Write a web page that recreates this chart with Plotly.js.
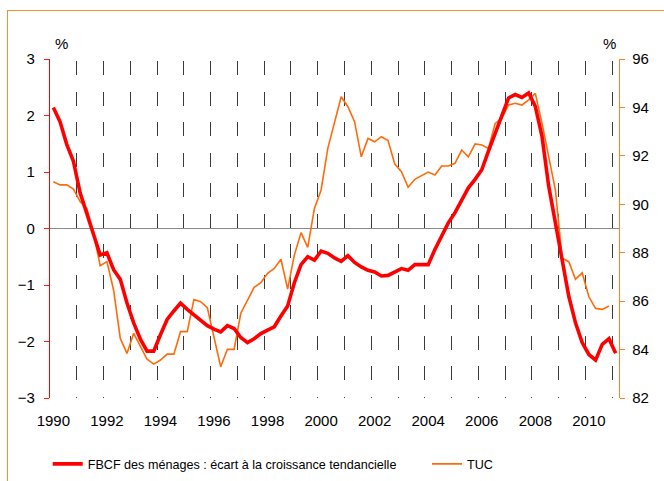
<!DOCTYPE html>
<html><head><meta charset="utf-8">
<script src="https://cdn.plot.ly/plotly-3.0.1.min.js"></script>
<style>
html,body{margin:0;padding:0;background:#fff;overflow:hidden;width:664px;height:481px;}
#chart{width:664px;height:481px;position:absolute;left:0;top:0;}
#frame{position:absolute;left:7px;top:10px;width:720px;height:540px;border:1px solid #ff8c2e;box-sizing:border-box;pointer-events:none;}
</style>
</head><body><div id="chart"></div><div id="frame"></div>
<script>
const firstYear = 1990;
// FBCF des ménages : écart à la croissance tendancielle (quarterly, 1990T1 - 2011T1), %
const fbcf = [2.14,1.89,1.49,1.19,0.63,0.26,-0.10,-0.47,-0.43,-0.73,
  -0.90,-1.32,-1.67,-1.96,-2.17,-2.17,-1.88,-1.61,-1.46,-1.32,
  -1.43,-1.53,-1.63,-1.72,-1.78,-1.83,-1.72,-1.77,-1.93,-2.02,
  -1.95,-1.86,-1.80,-1.74,-1.55,-1.37,-0.96,-0.64,-0.50,-0.56,
  -0.40,-0.44,-0.52,-0.58,-0.48,-0.60,-0.68,-0.74,-0.77,-0.84,
  -0.83,-0.77,-0.71,-0.74,-0.64,-0.64,-0.64,-0.37,-0.14,0.10,
  0.28,0.51,0.72,0.87,1.04,1.37,1.69,1.99,2.31,2.37,
  2.32,2.40,2.16,1.63,0.75,0.10,-0.55,-1.20,-1.67,-2.02,
  -2.23,-2.33,-2.05,-1.95,-2.21];
// TUC (quarterly, 1990T1 - 2010T4), %
const tuc = [90.93,90.80,90.80,90.63,90.11,89.83,88.80,87.46,87.63,86.46,
  84.46,83.84,84.67,84.12,83.60,83.40,83.57,83.81,83.81,84.74,
  84.74,86.07,85.98,85.73,84.53,83.29,84.01,84.01,85.50,86.05,
  86.57,86.76,87.15,87.35,87.73,86.50,87.90,88.83,88.22,89.83,
  90.59,92.31,93.34,94.44,94.03,93.41,91.96,92.72,92.58,92.79,
  92.63,91.66,91.35,90.70,91.03,91.17,91.33,91.21,91.58,91.58,
  91.69,92.24,91.96,92.49,92.45,92.31,93.34,93.55,94.10,94.17,
  94.10,94.31,94.58,93.34,91.96,90.59,87.77,87.63,86.90,87.17,
  86.18,85.70,85.66,85.80];
const labelYears = [1990,1992,1994,1996,1998,2000,2002,2004,2006,2008,2010];
const gridYears = [1991,1992,1993,1994,1995,1996,1997,1998,1999,2000,2001,2002,2003,2004,2005,2006,2007,2008,2009,2010,2011];
const leftTicks = [-3,-2,-1,0,1,2,3];
const rightTicks = [82,84,86,88,90,92,94,96];

const qx = i => firstYear + i / 4 + 0.125;   // centre of quarter i
const xF = fbcf.map((_, i) => qx(i));
const xT = tuc.map((_, i) => qx(i));

const traces = [
  {x: xF, y: fbcf, type: 'scatter', mode: 'lines', yaxis: 'y2', legend: 'legend',
   name: 'FBCF des ménages : écart à la croissance tendancielle',
   line: {color: '#ff0000', width: 3.6}, hoverinfo: 'skip'},
  {x: xT, y: tuc, type: 'scatter', mode: 'lines', yaxis: 'y', legend: 'legend2',
   name: 'TUC', line: {color: '#ff6a0a', width: 1.6}, hoverinfo: 'skip'}
];

const tickFont = {family: 'Liberation Sans, Arial, sans-serif', size: 15, color: '#000'};
const legFont = {family: 'Liberation Sans, Arial, sans-serif', size: 12.6, color: '#000'};

const layout = {
  width: 664, height: 481,
  margin: {l: 50, r: 45, t: 59, b: 83},
  paper_bgcolor: '#fff', plot_bgcolor: '#fff',
  showlegend: true,
  xaxis: {
    range: [1990, 2011.25], showgrid: false, zeroline: false, showline: false,
    tickmode: 'array', tickvals: labelYears.map(y => y + 0.125), ticktext: labelYears.map(String),
    ticks: '', tickfont: tickFont, ticklabelstandoff: 12,
    minor: {tickmode: 'array', tickvals: gridYears, showgrid: true, gridcolor: '#3a3a3a',
            gridwidth: 1, griddash: '0px,2px,14px,14.5px', ticks: ''}
  },
  yaxis: {
    side: 'right', range: [82, 96], tickmode: 'array', tickvals: rightTicks,
    showgrid: false, zeroline: false, showline: true, linecolor: '#ff8020', linewidth: 1.2,
    ticks: 'outside', ticklen: 5, tickcolor: '#ff8020', tickfont: tickFont, ticklabelstandoff: 4
  },
  yaxis2: {
    overlaying: 'y', side: 'left', range: [-3, 3], tickmode: 'array', tickvals: leftTicks,
    showgrid: false, zeroline: true, zerolinecolor: '#8a8a8a', zerolinewidth: 1.6,
    showline: true, linecolor: '#ff0000', linewidth: 1.2,
    ticks: 'outside', ticklen: 5, tickcolor: '#ff2020', tickfont: tickFont, ticklabelstandoff: 6
  },
  legend: {
    orientation: 'h', x: -0.004, xanchor: 'left', yref: 'container', y: 0.035, yanchor: 'middle',
    font: legFont, bgcolor: 'rgba(0,0,0,0)'
  },
  legend2: {
    orientation: 'h', x: 0.6626, xanchor: 'left', yref: 'container', y: 0.035, yanchor: 'middle',
    font: legFont, bgcolor: 'rgba(0,0,0,0)'
  },
  annotations: [
    {text: '%', xref: 'paper', yref: 'paper', x: 0.021, y: 1.047, showarrow: false,
     font: tickFont, xanchor: 'center', yanchor: 'middle'},
    {text: '%', xref: 'paper', yref: 'paper', x: 0.984, y: 1.047, showarrow: false,
     font: tickFont, xanchor: 'center', yanchor: 'middle'}
  ]
};

Plotly.newPlot('chart', traces, layout, {displayModeBar: false, staticPlot: true});
</script>
</body></html>
